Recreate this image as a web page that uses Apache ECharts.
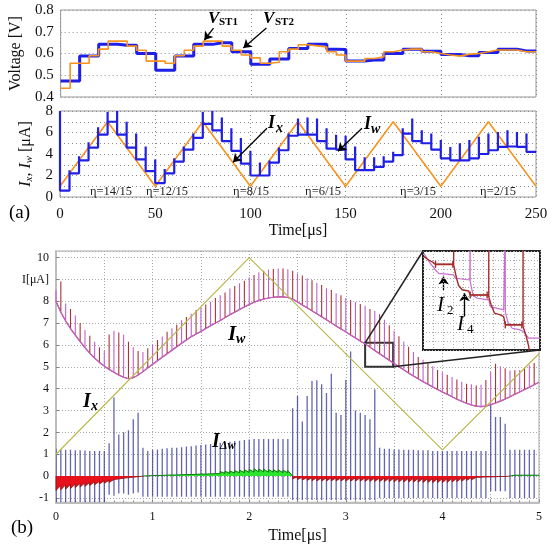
<!DOCTYPE html>
<html><head><meta charset="utf-8">
<script src="https://cdn.jsdelivr.net/npm/echarts@6.0.0/dist/echarts.min.js"></script>
<style>html,body{margin:0;padding:0;background:#fff;}#chart{width:559px;height:548px;}</style>
</head><body><div id="chart"></div>
<script>
const FONT = '"Liberation Serif","Times New Roman",serif';

// ---------------- Panel (a) data ----------------
const aStep = 5; // μs per sample
const vST1 = [0.44,0.555,0.555,0.59,0.62,0.657,0.657,0.634,0.615,0.565,
              0.565,0.555,0.59,0.615,0.634,0.657,0.657,0.634,0.615,0.593,
              0.58,0.555,0.56,0.608,0.62,0.64,0.635,0.63,0.608,0.593,
              0.565,0.565,0.577,0.585,0.608,0.616,0.62,0.62,0.608,0.6,
              0.593,0.588,0.597,0.6,0.608,0.616,0.616,0.616,0.608,0.608];
const vST2 = [0.474,0.474,0.589,0.589,0.642,0.642,0.638,0.638,0.6,0.6,
              0.523,0.523,0.589,0.589,0.642,0.642,0.649,0.649,0.608,0.608,
              0.551,0.551,0.575,0.575,0.623,0.623,0.642,0.642,0.62,0.618,
              0.566,0.566,0.57,0.57,0.6,0.6,0.62,0.62,0.61,0.61,
              0.595,0.595,0.59,0.59,0.605,0.605,0.62,0.62,0.612,0.612];
const ixTimes = [0,25,50,75,100,125,150,175,200,225,250];
const ixValues = [1,7,1,7,1,7,1,7,1,7,1];
const iwLevel = [0.6,2.2,3.4,4.6,5.8,7.0,5.8,4.6,3.5,2.4,
                 1.3,2.2,3.3,4.4,5.5,6.8,6.2,5.2,4.3,3.1,
                 2.0,2.0,3.2,4.35,5.7,5.8,5.8,5.2,4.5,4.4,
                 3.5,2.5,2.5,2.8,3.3,3.9,5.9,5.2,5.0,4.4,
                 3.6,3.4,3.4,3.6,4.0,4.35,4.66,4.7,4.66,4.2];
const iwPeak = [8.0,2.5,3.8,5.1,6.5,7.9,8.0,7.0,5.9,4.7,
                3.5,2.6,3.6,4.7,5.9,7.9,8.0,7.4,6.4,5.5,
                4.3,3.2,3.4,4.6,5.9,7.3,7.4,7.3,6.4,5.8,
                5.7,4.7,3.7,3.7,3.8,4.2,6.4,7.3,6.2,5.9,
                5.3,4.66,5.0,5.3,5.6,5.9,6.05,6.2,6.05,5.9];
const etaText = ['η=14/15','η=12/15','η=8/15','η=6/15','η=3/15','η=2/15'];

// ---------------- Panel (b) data ----------------
const bStep = 0.05; // μs per pulse
const bIxTimes = [0,2,4,5];
const bIxValues = [1,10,1.2,5.6];
const bIwBase = [8.0,7.5,7.1,6.75,6.45,6.15,5.88,5.62,5.4,5.2,
                 5.03,4.88,4.75,4.62,4.52,4.45,4.5,4.62,4.78,4.95,
                 5.12,5.28,5.44,5.6,5.76,5.92,6.08,6.23,6.38,6.5,
                 6.62,6.75,6.88,7.0,7.12,7.25,7.38,7.5,7.62,7.74,
                 7.85,7.95,8.03,8.1,8.15,8.18,8.2,8.2,8.17,8.1,
                 7.97,7.83,7.7,7.56,7.43,7.29,7.15,7.01,6.87,6.73,
                 6.6,6.46,6.32,6.18,6.05,5.9,5.75,5.6,5.45,5.3,
                 5.15,5.0,4.86,4.72,4.58,4.45,4.32,4.2,4.08,3.96,
                 3.85,3.74,3.63,3.52,3.42,3.33,3.25,3.2,3.18,3.2,
                 3.26,3.34,3.43,3.53,3.63,3.74,3.85,3.96,4.07,4.18,4.3];
const bIwSpike = [0.5,1.4,0.8,0.9,0.9,0.85,0.8,0.8,0.75,0.7,
                  0.7,1.6,1.9,1.95,1.95,1.7,1.4,1.1,0.9,0.9,
                  0.9,0.95,0.95,1.0,1.0,1.0,1.05,1.05,1.05,1.1,
                  1.1,1.1,1.1,1.15,1.15,1.15,1.2,1.2,1.2,1.2,
                  1.25,1.25,1.3,1.3,1.3,1.3,1.3,1.3,1.3,1.3,
                  1.3,1.35,1.35,1.4,1.4,1.45,1.45,1.5,1.5,1.55,
                  1.55,1.6,1.65,1.7,1.75,1.75,1.8,1.8,1.7,1.6,
                  1.5,1.4,1.3,1.2,1.1,1.0,1.0,0.95,0.95,0.9,
                  0.9,0.9,0.9,0.9,0.9,0.9,0.95,0.95,1.0,1.2,
                  1.5,1.8,1.6,1.4,1.2,1.1,1.0,1.0,1.0,1.0];
const bDwHigh = [1.25,1.22,1.2,1.2,1.18,1.18,1.17,1.15,1.15,1.15,
                 1.15,1.5,3.6,1.9,2.0,2.1,2.6,2.9,1.3,1.15,
                 1.2,1.22,1.25,1.27,1.3,1.3,1.32,1.35,1.37,1.4,
                 1.42,1.45,1.47,1.5,1.52,1.55,1.57,1.6,1.62,1.65,
                 1.67,1.7,1.7,1.7,1.7,1.7,1.7,1.7,1.7,3.1,
                 3.66,2.5,3.66,4.35,4.38,4.2,3.8,4.68,2.9,2.8,
                 4.4,5.7,3.0,2.9,2.8,2.6,3.97,1.3,1.25,1.25,
                 1.22,1.22,1.2,1.2,1.2,1.18,1.18,1.18,1.15,1.15,
                 1.15,1.15,1.15,1.15,1.15,1.15,1.15,1.15,1.15,1.15,
                 3.3,2.7,2.7,2.4,1.2,1.2,1.2,1.2,1.2,1.2];
const bDwLow = [-1.2,-1.2,-1.2,-1.2,-1.2,-1.2,-1.2,-1.2,-1.2,-1.2,
                -1.2,-0.85,-0.9,-0.8,-0.8,-0.85,-0.8,-0.75,-0.95,-0.95,
                -0.95,-0.95,-0.95,-0.95,-0.95,-0.95,-0.95,-0.95,-0.95,-0.95,
                -0.95,-0.95,-0.95,-0.95,-0.95,-0.95,-0.95,-0.95,-0.95,-0.95,
                -0.95,-0.95,-0.95,-0.95,-0.95,-0.95,-0.95,-0.95,-0.95,-1.1,
                -1.1,-1.1,-1.1,-1.1,-1.1,-1.1,-1.1,-1.1,-1.1,-1.1,
                -1.1,-1.1,-1.1,-1.1,-1.1,-1.1,-1.1,-1.0,-1.0,-1.0,
                -1.0,-1.0,-1.0,-1.0,-1.0,-1.0,-1.0,-1.0,-1.0,-1.0,
                -1.0,-1.0,-1.0,-1.0,-1.0,-1.0,-1.0,-1.0,-1.0,-1.0,
                -0.7,-0.7,-0.7,-0.7,-1.0,-1.0,-1.0,-1.0,-1.0,-1.0];
const bDwJump = [-0.66,-0.63,-0.6,-0.57,-0.53,-0.5,-0.47,-0.43,-0.4,-0.36,
                 -0.33,-0.29,-0.25,-0.21,-0.17,-0.13,-0.09,-0.05,0.05,0.06,
                 0.07,0.08,0.09,0.1,0.11,0.12,0.13,0.14,0.15,0.16,
                 0.17,0.18,0.19,0.2,0.21,0.22,0.23,0.25,0.27,0.29,
                 0.31,0.33,0.32,0.31,0.3,0.29,0.28,0.27,0.25,-0.12,
                 -0.16,-0.18,-0.2,-0.21,-0.22,-0.22,-0.22,-0.22,-0.22,-0.22,
                 -0.23,-0.23,-0.23,-0.23,-0.24,-0.24,-0.24,-0.25,-0.25,-0.25,
                 -0.26,-0.26,-0.27,-0.27,-0.28,-0.28,-0.29,-0.29,-0.3,-0.3,
                 -0.3,-0.29,-0.27,-0.25,-0.23,-0.2,-0.17,-0.15,-0.13,-0.11,
                 -0.09,-0.07,-0.05,-0.03,0.06,0.06,0.06,0.06,0.06,0.06];
const bDwEnd = [-0.42,-0.4,-0.38,-0.36,-0.33,-0.31,-0.29,-0.26,-0.24,-0.21,
                -0.19,-0.16,-0.13,-0.1,-0.07,-0.05,-0.03,0,0.01,0.02,
                0.03,0.03,0.04,0.05,0.05,0.06,0.07,0.07,0.08,0.09,
                0.09,0.1,0.11,0.11,0.12,0.13,0.14,0.15,0.16,0.17,
                0.18,0.19,0.19,0.18,0.18,0.17,0.16,0.15,0,-0.04,
                -0.05,-0.06,-0.07,-0.07,-0.08,-0.08,-0.08,-0.08,-0.08,-0.08,
                -0.08,-0.08,-0.08,-0.08,-0.09,-0.09,-0.09,-0.09,-0.09,-0.09,
                -0.1,-0.1,-0.1,-0.1,-0.1,-0.1,-0.11,-0.11,-0.11,-0.11,
                -0.11,-0.1,-0.1,-0.09,-0.08,-0.07,-0.06,-0.05,-0.04,-0.04,
                -0.03,-0.02,-0.02,0,0.04,0.04,0.04,0.04,0.04,0.04];
const dwNegRanges = [[0,17],[49,93]];
const dwPosRanges = [[18,48],[94,99]];

// inset (zoom of I_w around t = 3.2 … 3.49 μs)
const insetRange = {t:[3.2,3.49], v:[5.0,6.1]};
const insetRed = [[3.202,6.04],[3.214,6.0],[3.226,5.97],[3.231,5.95],[3.276,5.95],[3.276,6.5],[3.276,5.945],
  [3.283,5.8],[3.288,5.72],[3.297,5.67],[3.313,5.655],[3.317,5.61],[3.363,5.61],[3.363,6.5],[3.363,5.59],
  [3.369,5.5],[3.377,5.41],[3.392,5.39],[3.4,5.37],[3.404,5.28],[3.448,5.28],[3.448,6.5],[3.448,5.26],
  [3.456,5.15],[3.462,5.04],[3.466,4.9]];
const insetPurple = [[3.202,6.074],[3.218,5.963],[3.231,5.889],[3.239,5.852],[3.276,5.834],[3.28,5.797],
  [3.316,5.778],[3.317,5.778],[3.317,6.5],[3.317,5.76],[3.324,5.612],[3.334,5.575],[3.363,5.556],
  [3.367,5.482],[3.4,5.445],[3.404,5.445],[3.404,6.5],[3.404,5.427],[3.41,5.316],[3.421,5.242],
  [3.441,5.223],[3.449,5.205],[3.462,5.131],[3.49,5.131]];
const insetBrackets = [[3.231,3.274,5.952],[3.317,3.359,5.612],[3.404,3.445,5.279]];

// ---------------- build series data ----------------
const stepSeries = arr => arr.map((v,k)=>[k*aStep,v]).concat([[arr.length*aStep, arr[arr.length-1]]]);
const iwA = [];
iwLevel.forEach((lv,k)=>{
  const t = k*aStep;
  const prev = k===0 ? lv : iwLevel[k-1];
  iwA.push([t,prev],[t,iwPeak[k]],[t,lv]);
});
iwA.push([iwLevel.length*aStep, iwLevel[iwLevel.length-1]]);

const tb = i => Math.round(i*bStep*1000)/1000;
function iwTrace(parity){
  const d=[];
  bIwBase.forEach((b,i)=>{
    d.push([tb(i),b]);
    if(i<bIwSpike.length && i%2===parity){ d.push([tb(i), b+bIwSpike[i]], [tb(i), b]); }
  });
  return d;
}
function dwSeg(r){
  const d=[[tb(r[0]),0]];
  for(let i=r[0];i<=r[1];i++){ d.push([tb(i),bDwJump[i]]); d.push([tb(i+1),bDwEnd[i]]); }
  d.push([tb(r[1]+1),0]);
  return d;
}
const blueSpikes = bDwHigh.map((h,i)=>[tb(i), bDwLow[i], h]);

const arrowML = (pairs) => ({
  silent:true, animation:false, symbol:['none','arrow'], symbolSize:8,
  label:{show:false}, emphasis:{disabled:true},
  lineStyle:{color:'#000', width:1.3, type:'solid'},
  data: pairs.map(p=>[{coord:p[0]},{coord:p[1]}])
});

// ---------------- axes helpers ----------------
const dotA = {show:true, lineStyle:{color:'#8a8a8a', type:[1,3], width:1}};
const dotB = {show:true, lineStyle:{color:'#a8a8a8', type:[1,2], width:1}};
const lblA = {fontFamily:FONT, fontSize:15, color:'#111'};
const lblB = {fontFamily:FONT, fontSize:12, color:'#111'};

function label(id,x,y,text,size,o={}){
  return {type:'text', id, x, y, z:100, silent:true,
    style:{text, fontFamily:FONT, fontSize:size, fontStyle:o.italic?'italic':'normal',
      fontWeight:o.bold?'bold':'normal', fill:o.color||'#000',
      align:o.align||'left', verticalAlign:o.v||'top', textAlign:o.align||'left', textVerticalAlign:o.v||'top'}};
}
const graphics = [
  label('pa',9,204,'(a)',19), label('pb',11,519,'(b)',19),
  label('v1',208,10,'V',17,{italic:true,bold:true}), label('v1s',219,17,'ST1',11,{bold:true}),
  label('v2',263,10,'V',17,{italic:true,bold:true}), label('v2s',275,17,'ST2',11,{bold:true}),
  label('ax',268,114,'I',18,{italic:true,bold:true}), label('axs',276,121,'x',14,{italic:true,bold:true}),
  label('aw',364,115,'I',18,{italic:true,bold:true}), label('aws',371,122,'w',14,{italic:true,bold:true}),
  label('bw',228,324,'I',21,{italic:true,bold:true}), label('bws',236,332,'w',14,{italic:true,bold:true}),
  label('bx',83,392,'I',20,{italic:true,bold:true}), label('bxs',91,399,'x',14,{italic:true,bold:true}),
  label('bd',212,432,'I',20,{italic:true,bold:true}), label('bds',220,440,'Δw',12,{italic:true,bold:true}),
  label('i2',437,295,'I',21,{italic:true}), label('i2s',447,304,'2',13),
  label('i4',457,314,'I',21,{italic:true}), label('i4s',467,323,'4',13)
];
const etaPos = [[111,192],[167,192],[251,192],[323,192],[418,192],[498,192]];
etaText.forEach((t,i)=>graphics.push(label('eta'+i, etaPos[i][0], etaPos[i][1], t, 12.5, {align:'center', v:'middle', color:'#222'})));

const option = {
  animation:false,
  backgroundColor:'#fff',
  grid:[
    {left:60, top:10, width:476, height:87, show:true, borderColor:'#999', borderWidth:1},
    {left:60, top:111, width:476, height:86, show:true, borderColor:'#999', borderWidth:1},
    {left:56, top:251, width:483, height:251.3, show:true, borderColor:'#aaa', borderWidth:1},
    {left:423, top:251, width:117, height:99, show:true, borderColor:'#222', borderWidth:2, backgroundColor:'#fff', z:5}
  ],
  xAxis:[
    {gridIndex:0, type:'value', min:0, max:250, interval:50, axisLabel:{show:false}, axisTick:{show:false}, axisLine:{show:false}, splitLine:dotA},
    {gridIndex:1, type:'value', min:0, max:250, interval:50, axisLabel:Object.assign({margin:10}, lblA), axisTick:{show:false}, axisLine:{show:false}, splitLine:dotA,
      name:'Time[μs]', nameLocation:'middle', nameGap:17, nameTextStyle:{fontFamily:FONT, fontSize:16, color:'#111'}},
    {gridIndex:2, type:'value', min:0, max:5, interval:0.5,
      axisLabel:Object.assign({margin:9, formatter:v=>Number.isInteger(v)?String(v):''}, lblB),
      axisTick:{show:true, inside:true, length:3, lineStyle:{color:'#888'}},
      minorTick:{show:true, splitNumber:5, length:2, lineStyle:{color:'#999'}},
      axisLine:{show:true, onZero:false, lineStyle:{color:'#bdbdbd', width:2}}, splitLine:dotB,
      name:'Time[μs]', nameLocation:'middle', nameGap:25, nameTextStyle:{fontFamily:FONT, fontSize:16, color:'#111'}},
    {gridIndex:3, type:'value', min:insetRange.t[0], max:insetRange.t[1], interval:0.025, z:6,
      axisLabel:{show:false}, axisTick:{show:false}, axisLine:{show:false}, splitLine:{show:true, lineStyle:{color:'#aaa', type:[1,2]}}}
  ],
  yAxis:[
    {gridIndex:0, type:'value', min:0.4, max:0.8, interval:0.1, axisLabel:Object.assign({margin:7}, lblA), axisTick:{show:false}, axisLine:{show:false}, splitLine:dotA,
      name:'Voltage [V]', nameLocation:'middle', nameGap:27, nameTextStyle:{fontFamily:FONT, fontSize:16, color:'#111'}},
    {gridIndex:1, type:'value', min:0, max:8, interval:2, axisLabel:Object.assign({margin:7}, lblA), axisTick:{show:false}, axisLine:{show:false}, splitLine:dotA,
      minorTick:{show:false, splitNumber:2}, minorSplitLine:dotA,
      name:'{i|I}{s|x}{n|, }{i|I}{s|w}{n| [μA]}', nameLocation:'middle', nameGap:24,
      nameTextStyle:{fontFamily:FONT, fontSize:16, color:'#111',
        rich:{i:{fontFamily:FONT, fontSize:16, fontStyle:'italic', color:'#111'},
              s:{fontFamily:FONT, fontSize:11, fontStyle:'italic', color:'#111', padding:[6,0,0,0]},
              n:{fontFamily:FONT, fontSize:16, color:'#111'}}}},
    {gridIndex:2, type:'value', min:-1.2, max:10.3, splitNumber:11,
      axisLabel:Object.assign({margin:7, showMinLabel:false, showMaxLabel:false,
        formatter:v=>Number.isInteger(v)?(v===9?'I[μA]':String(v)):''}, lblB),
      axisTick:{show:true, inside:true, length:3, lineStyle:{color:'#888'}},
      axisLine:{show:true, lineStyle:{color:'#bdbdbd', width:2}}, splitLine:dotB},
    {gridIndex:3, type:'value', min:insetRange.v[0], max:insetRange.v[1], interval:0.1, z:6,
      axisLabel:{show:false}, axisTick:{show:false}, axisLine:{show:false}, splitLine:{show:true, lineStyle:{color:'#aaa', type:[1,2]}}}
  ],
  series:[
    // (a) voltage
    {name:'VST2', type:'line', xAxisIndex:0, yAxisIndex:0, step:'end', data:stepSeries(vST2), symbol:'none',
      lineStyle:{color:'#1f1fe6', width:3}, z:2},
    {name:'VST1', type:'line', xAxisIndex:0, yAxisIndex:0, step:'end', data:stepSeries(vST1), symbol:'none',
      lineStyle:{color:'#f7931e', width:1.6}, z:3,
      markLine:arrowML([[[80.4,0.717],[75.6,0.662]],[[108.2,0.717],[96.1,0.625]]])},
    // (a) currents
    {name:'Ix', type:'line', xAxisIndex:1, yAxisIndex:1, data:ixTimes.map((t,i)=>[t,ixValues[i]]), symbol:'none',
      lineStyle:{color:'#f7931e', width:1.6}, z:2},
    {name:'Iw', type:'line', xAxisIndex:1, yAxisIndex:1, data:iwA, symbol:'none',
      lineStyle:{color:'#1f1fe6', width:2.2}, z:3,
      markLine:arrowML([[[108.7,6.39],[90.9,3.24]],[[158.6,6.39],[146,4.26]]])},
    // (b)
    {name:'dW', type:'custom', xAxisIndex:2, yAxisIndex:2, data:blueSpikes, encode:{x:0, y:[1,2]}, z:2, clip:true,
      renderItem:(params, api)=>{
        const a = api.coord([api.value(0), api.value(1)]);
        const b = api.coord([api.value(0), api.value(2)]);
        return {type:'line', shape:{x1:a[0], y1:a[1], x2:b[0], y2:b[1]}, style:{stroke:'rgba(40,40,150,0.72)', lineWidth:1.3}};
      }},
    ...dwNegRanges.map((r,k)=>({name:'dwNeg'+k, type:'line', xAxisIndex:2, yAxisIndex:2, data:dwSeg(r), symbol:'none',
      lineStyle:{color:'#8a1010', width:0.8}, areaStyle:{color:'#e8101a', opacity:1}, z:3})),
    ...dwPosRanges.map((r,k)=>({name:'dwPos'+k, type:'line', xAxisIndex:2, yAxisIndex:2, data:dwSeg(r), symbol:'none',
      lineStyle:{color:'#0a7a0a', width:1}, areaStyle:{color:'#2ee52e', opacity:1}, z:3})),
    {name:'IwRed', type:'line', xAxisIndex:2, yAxisIndex:2, data:iwTrace(1), symbol:'none',
      lineStyle:{color:'#a83236', width:1.1}, z:3},
    {name:'IwPurple', type:'line', xAxisIndex:2, yAxisIndex:2, data:iwTrace(0), symbol:'none',
      lineStyle:{color:'#c460cc', width:1.1}, z:3},
    {name:'IxB', type:'line', xAxisIndex:2, yAxisIndex:2, data:bIxTimes.map((t,i)=>[t,bIxValues[i]]), symbol:'none',
      lineStyle:{color:'#b9b84e', width:1.2}, z:4,
      markArea:{silent:true, itemStyle:{color:'rgba(0,0,0,0)', borderColor:'#333', borderWidth:2},
        data:[[{coord:[insetRange.t[0], insetRange.v[1]]},{coord:[insetRange.t[1], insetRange.v[0]]}]]}},
    // inset
    {name:'insetPurple', type:'line', xAxisIndex:3, yAxisIndex:3, data:insetPurple, symbol:'none',
      lineStyle:{color:'#c86ed0', width:1.2}, z:7},
    {name:'insetRed', type:'line', xAxisIndex:3, yAxisIndex:3, data:insetRed, symbol:'none',
      lineStyle:{color:'#a82a2a', width:1.4}, z:8,
      markLine:arrowML([[[3.251,5.667],[3.251,5.816]],[[3.303,5.375],[3.303,5.63]]])},
    ...insetBrackets.map((b,k)=>({name:'br'+k, type:'line', xAxisIndex:3, yAxisIndex:3,
      data:[[b[0],b[2]],[b[1],b[2]]], symbol:'rect', symbolSize:[1.4,7], showSymbol:true,
      itemStyle:{color:'#a82a2a'}, lineStyle:{color:'#a82a2a', width:1.4}, z:8}))
  ],
  graphic: graphics
};

const chart = echarts.init(document.getElementById('chart'), null, {renderer:'canvas'});
chart.setOption(option);
// connector lines between the marked rectangle and the inset
const r1 = chart.convertToPixel({gridIndex:2}, [insetRange.t[0], insetRange.v[1]]);
const r2 = chart.convertToPixel({gridIndex:2}, [insetRange.t[1], insetRange.v[0]]);
const s1 = chart.convertToPixel({gridIndex:3}, [insetRange.t[0], insetRange.v[1]]);
const s2 = chart.convertToPixel({gridIndex:3}, [insetRange.t[1], insetRange.v[0]]);
option.graphic = graphics.concat([
  {type:'line', id:'c1', z:50, silent:true, shape:{x1:r1[0], y1:r1[1], x2:s1[0], y2:s1[1]}, style:{stroke:'#222', lineWidth:1.5}},
  {type:'line', id:'c2', z:50, silent:true, shape:{x1:r2[0], y1:r2[1], x2:s2[0], y2:s2[1]}, style:{stroke:'#222', lineWidth:1.5}}
]);
chart.setOption(option, true);
</script></body></html>
